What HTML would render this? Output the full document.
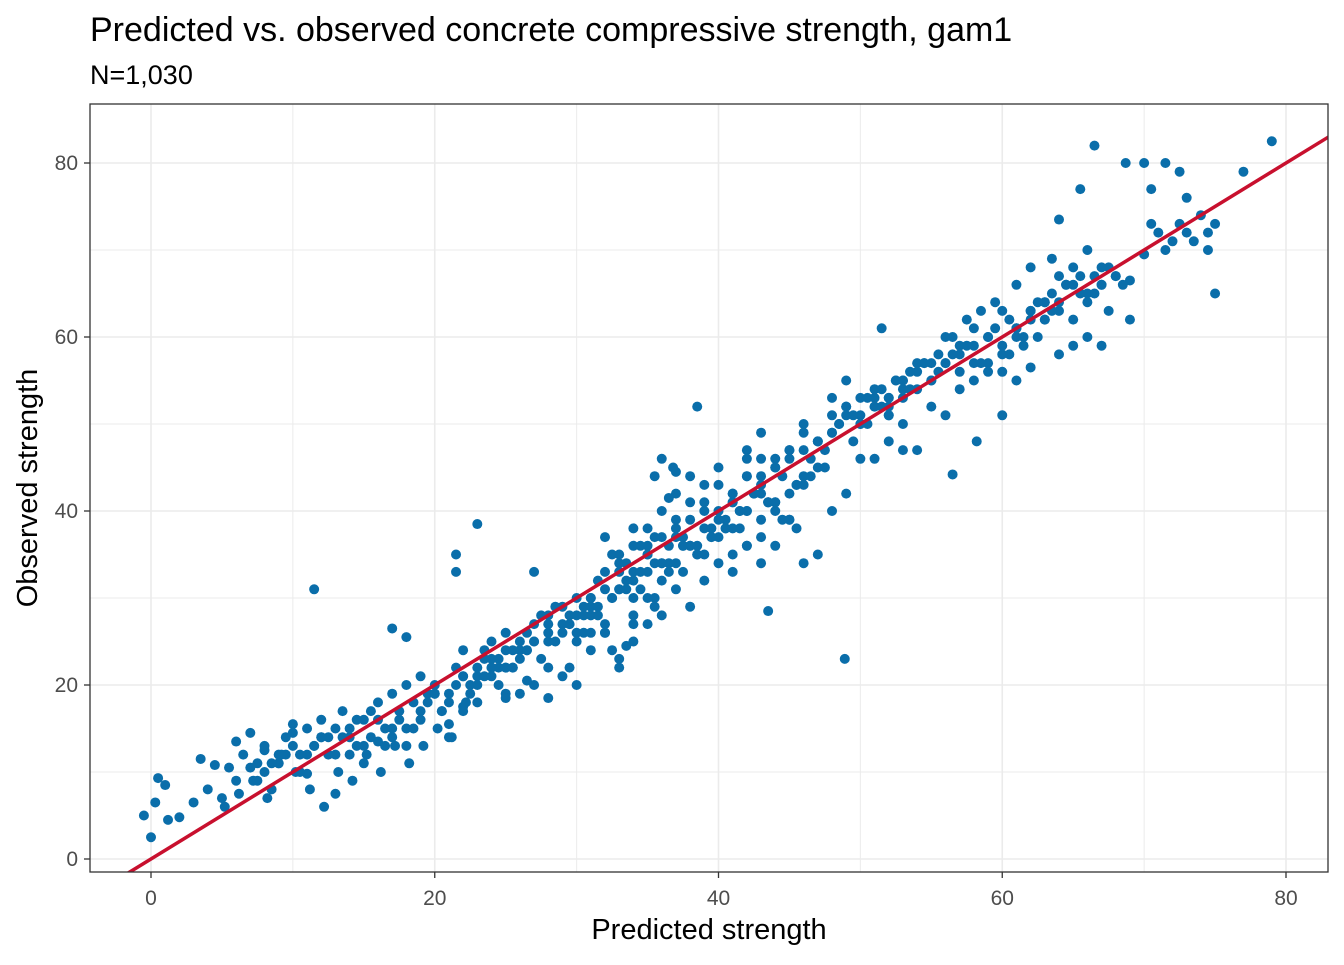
<!DOCTYPE html>
<html><head><meta charset="utf-8"><style>
body{margin:0;background:#fff;font-family:"Liberation Sans",Arial,sans-serif}
</style></head><body>
<svg id="chart" width="1344" height="960" xmlns="http://www.w3.org/2000/svg">
<text x="90" y="41" fill="#000" style="font-size:34px">Predicted vs. observed concrete compressive strength, gam1</text>
<text x="90" y="84" fill="#000" style="font-size:27px">N=1,030</text>
<g id="grid"></g>
<g id="pts"></g>
<g id="fit"></g>
<rect x="90" y="104" width="1238" height="768" fill="none" stroke="#333" stroke-width="1.3"/>
<g id="axes"></g>
<text x="709" y="939" text-anchor="middle" font-size="29">Predicted strength</text>
<text transform="translate(37,488) rotate(-90)" text-anchor="middle" font-size="29">Observed strength</text>
</svg>
<script>
const xTicks=[0,20,40,60,80];
const yTicks=[0,20,40,60,80];
const fitLine=[[-2,-2],[84,84]];
const predicted=[0,0.3,0.5,1,1.2,-0.5,2,3,4,5,5.5,6,6.5,7,7.5,8,8.5,9,9.5,10,10.5,11,11.5,12,12.5,13,13.5,14,14.5,15,15.5,16,16.5,17,17.5,18,18.5,19,19.5,20,
3.5,4.5,5.2,6.2,7.2,8.2,9.2,10.2,11.2,12.2,13.2,14.2,15.2,16.2,17.2,18.2,19.2,20.2,21.2,22.2,
6,7,8,9,10,11,12,13,14,15,16,17,18,19,20,21,22,23,24,25,
11.5,23,21.5,21.5,17,18,
20.5,21,21.5,22,22.5,23,23.5,24,24.5,25,25.5,26,26.5,27,27.5,28,28.5,29,29.5,30,
21,22,23,24,25,26,27,28,29,30,31,32,33,34,35,
22,23.5,25,26.5,28,29.5,31,32.5,34,35.5,27,28,30,
30.5,31,31.5,32,32.5,33,33.5,34,34.5,35,35.5,36,36.5,37,37.5,38,38.5,39,39.5,40,
31,32,33,34,35,36,37,38,39,40,41,42,43,
32,33,34,35,36,37,38,39,40,41,42,43,44,45,46,
36.5,37,36,35.5,38.5,37.5,36.8,33.5,
40.5,41,41.5,42,42.5,43,43.5,44,44.5,45,45.5,46,46.5,47,47.5,48,48.5,49,49.5,50,
41,42,43,44,45,46,47,48,49,50,43.5,48.9,44,45.5,
42,43,44,45,46,47,48,49,50,51,52,53,
50.5,51,51.5,52,52.5,53,53.5,54,54.5,55,55.5,56,56.5,57,57.5,58,58.5,59,59.5,60,
51,52,53,54,55,56,57,58,59,60,51.5,53,56.5,58.2,
52,53,54,55,56,57,58,59,60,61,62,
60.5,61,61.5,62,62.5,63,63.5,64,64.5,65,65.5,66,66.5,67,67.5,68,69,
61,62,63,64,65,66,67,68,63.5,64,
60,61,62,63,64,65,66,67,
69,70,70.5,71,71.5,72,72.5,73,73.5,74,74.5,75,77,79,
70,70.5,71.5,72.5,73,74.5,75,66.5,65.5,68.7,
8,9,10,11,12,13,14,15,16,17,18,19,20,21,22,23,24,25,26,27,
7.5,8.5,9.5,10.5,11.5,12.5,13.5,14.5,15.5,16.5,17.5,18.5,19.5,20.5,21.5,22.5,23.5,24.5,25.5,26.5,
24,25,26,27,28,29,30,31,32,33,34,35,36,37,38,39,40,41,42,43,
24.5,25.5,26.5,27.5,28.5,29.5,30.5,31.5,32.5,33.5,34.5,35.5,36.5,37.5,38.5,39.5,40.5,41.5,42.5,43.5,
28,29,30,31,32,33,34,35,36,37,38,39,40,41,42,43,44,45,46,47,
29.5,30.5,31.5,32.5,33.5,34.5,35.5,36.5,37.5,38.5,39.5,40.5,41.5,42.5,43.5,44.5,45.5,46.5,47.5,48.5,
33,34,35,36,37,38,39,40,41,42,43,44,45,46,47,48,49,50,51,52,
48,49,50,51,52,53,54,55,56,57,58,59,60,61,62,63,64,65,66,67,
49.5,50.5,51.5,52.5,53.5,54.5,55.5,56.5,57.5,58.5,59.5,60.5,61.5,62.5,63.5,64.5,65.5,66.5,67.5,68.5];
const observed=[2.5,6.5,9.3,8.5,4.5,5,4.8,6.5,8,7,10.5,9,12,10.5,11,13,8,12,14,14.5,12,15,13,16,14,15,17,14,13,16,17,18,15,19,17,20,18,21,19,20,
11.5,10.8,6,7.5,9,7,12,10,8,6,10,9,12,10,13,11,13,15,14,18,
13.5,14.5,12.5,11,15.5,9.8,14,7.5,12,11,13.5,15,13,16,19,14,17.5,21,22,19,
31,38.5,35,33,26.5,25.5,
17,19,22,24,20,22,23,25,22,26,24,23,26,25,28,27,29,26,28,30,
15.5,17,18,21,18.5,19,20,22,21,25,28,26,23,25,27,
21,24,22,20.5,18.5,22,26,24,28,29,33,28,20,
28,30,32,33,35,31,34,33,36,35,37,34,36,38,37,39,36,41,38,40,
24,26,22,27,30,28,31,29,32,34,33,36,34,
37,35,38,36,40,42,44,43,45,41,46,44,40,39,43,
41.5,44.5,46,44,52,33,45,24.5,
38,42,40,44,42,43,41,45,39,46,43,47,44,48,47,49,50,52,48,51,
35,36,37,36,39,34,35,40,42,46,28.5,23,41,38,
47,49,46,47,50,48,53,55,53,52,51,55,
50,52,54,51,55,53,56,54,57,55,58,57,60,58,62,61,63,60,64,63,
46,48,50,47,52,51,54,55,57,56,61,47,44.2,48,
53,55,57,57,60,59,57,56,59,61,63,
58,60,59,62,60,64,65,63,66,62,67,64,65,66,63,67,66.5,
66,68,64,67,68,70,66,67,69,73.5,
51,55,56.5,62,58,59,60,59,
62,69.5,73,72,70,71,73,72,71,74,72,73,79,82.5,
80,77,80,79,76,70,65,82,77,80,
10,11,13,12,14,12,15,13,16,14,15,17,19,18,21,20,23,22,24,25,
9,11,12,10,13,12,14,16,14,13,16,15,18,17,20,19,21,23,22,24,
22,24,25,27,26,29,28,30,31,33,32,35,34,37,36,38,39,41,40,42,
20,22,24,23,25,27,29,28,30,31,33,30,34,36,35,37,39,38,42,41,
25,27,26,29,27,31,30,33,32,34,36,35,37,38,40,39,41,42,44,45,
27,26,29,30,32,31,34,33,36,35,37,38,40,42,41,44,43,46,45,50,
34,36,38,37,39,41,40,43,42,44,46,45,47,49,48,51,52,50,54,53,
49,51,50,53,52,54,56,55,57,56,59,60,58,61,63,62,64,66,65,68,
51,53,52,55,54,57,56,58,59,57,61,62,60,64,63,66,65,67,68,66];
const X=v=>151+v*14.1875, Y=v=>859-v*8.7;
const NS='http://www.w3.org/2000/svg';
function mk(t,a,p){const e=document.createElementNS(NS,t);for(const k in a)e.setAttribute(k,a[k]);p.appendChild(e);return e;}
const grid=document.getElementById('grid'),axes=document.getElementById('axes');
[-10,0,10,20,30,40,50,60,70,80].forEach(v=>{
 const minor=v%20!==0;
 if(X(v)>90&&X(v)<1328){const l=mk('line',{x1:X(v),x2:X(v),y1:104,y2:872,stroke:'#ebebeb','stroke-width':minor?1:1.6},grid);
 
 }
 if(Y(v)>104&&Y(v)<872){const l=mk('line',{x1:90,x2:1328,y1:Y(v),y2:Y(v),stroke:'#ebebeb','stroke-width':minor?1:1.6},grid);
 
 }
});
xTicks.forEach(v=>{
 mk('line',{x1:X(v),x2:X(v),y1:872,y2:878,stroke:'#333','stroke-width':1.3},axes);
 const t=mk('text',{x:X(v),y:905,'text-anchor':'middle','font-size':21,fill:'#4d4d4d'},axes);t.textContent=v;
 
 
});
yTicks.forEach(v=>{
 mk('line',{x1:84,x2:90,y1:Y(v),y2:Y(v),stroke:'#333','stroke-width':1.3},axes);
 const t=mk('text',{x:78,y:Y(v)+7,'text-anchor':'end','font-size':21,fill:'#4d4d4d'},axes);t.textContent=v;
 
 
});
const pts=document.getElementById('pts');
predicted.forEach((p,i)=>{
 const c=mk('circle',{cx:X(p),cy:Y(observed[i]),r:5,fill:'#0A6EAA'},pts);
 
 
});
const fit=document.getElementById('fit');
const cp=mk('clipPath',{id:'clip'},document.getElementById('chart'));
mk('rect',{x:90,y:104,width:1238,height:768},cp);
const ln=mk('line',{x1:X(fitLine[0][0]),y1:Y(fitLine[0][1]),x2:X(fitLine[1][0]),y2:Y(fitLine[1][1]),stroke:'#C8102E','stroke-width':3.5,'clip-path':'url(#clip)'},fit);


</script>
</body></html>
